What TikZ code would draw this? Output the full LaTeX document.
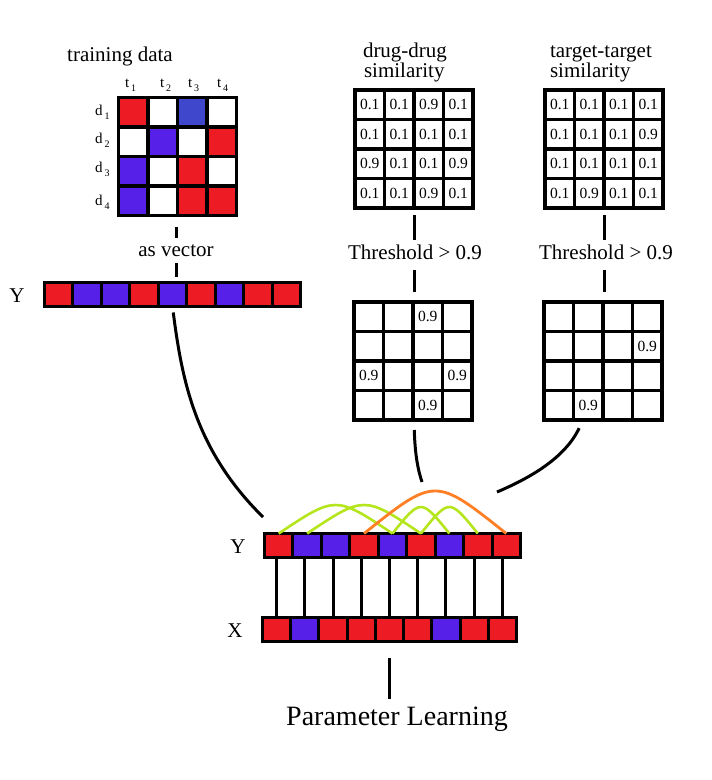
\documentclass[tikz,border=0pt]{standalone}
\usepackage{fontspec}
\setmainfont{Liberation Serif}
\usetikzlibrary{calc}
\definecolor{cred}{HTML}{ED1C24}
\definecolor{cpur}{HTML}{5720E9}
\definecolor{cblue}{HTML}{3F48CC}
\definecolor{clime}{HTML}{B5E61D}
\definecolor{corange}{HTML}{FF7F27}
\newcommand\subl[2]{#1\kern2pt\raisebox{-4pt}{\fontsize{10}{12}\selectfont #2}}
\tikzset{
 mcell/.style={draw=black,line width=3.5pt,minimum width=29.5pt,minimum height=29.5pt,inner sep=0pt,outer sep=0pt,font=\fontsize{15.5}{18}\selectfont},
 vcell/.style={draw=black,line width=3pt,minimum height=24pt,inner sep=0pt,outer sep=0pt},
 lbl/.style={font=\fontsize{21}{24}\selectfont,inner sep=0pt,outer sep=0pt,anchor=base},
 lblw/.style={lbl,anchor=base west},
 smalllbl/.style={font=\fontsize{15}{18}\selectfont,inner sep=0pt,outer sep=0pt,anchor=base west},
 conn/.style={line width=3pt},
 arcg/.style={draw=clime,line width=2.6pt},
 arco/.style={draw=corange,line width=2.8pt},
}
\begin{document}
\begin{tikzpicture}[x=1pt,y=-1pt]
\useasboundingbox (0,0) rectangle (712,780);

% ---------- training data ----------
\node[lbl] (trtitle) at (120,61) {training data};
\foreach \row [count=\i] in {{cred,white,cblue,white},{white,cpur,white,cred},{cpur,white,cred,white},{cpur,white,cred,cred}}
  \foreach \c [count=\j] in \row
    \node[mcell,fill=\c] (tr-\i-\j) at ({118.5+29.5*(\j-0.5)},{97.5+29.5*(\i-0.5)}) {};
\node[smalllbl] (t1) at (125,87) {\subl{t}{1}};
\node[smalllbl] (t2) at (160,87) {\subl{t}{2}};
\node[smalllbl] (t3) at (188,87) {\subl{t}{3}};
\node[smalllbl] (t4) at (217,87) {\subl{t}{4}};
\node[smalllbl] (d1) at (95,115) {\subl{d}{1}};
\node[smalllbl] (d2) at (95,143) {\subl{d}{2}};
\node[smalllbl] (d3) at (95,172) {\subl{d}{3}};
\node[smalllbl] (d4) at (95,205) {\subl{d}{4}};
\coordinate (tmb) at (176,215.5);
\node[lbl] (av) at (176,256) {as vector};
\coordinate (tyt) at (176,282.5);
\draw[conn,shorten <=11.5pt,shorten >=12pt] (tmb) -- (av.center);
\draw[conn,shorten <=13pt,shorten >=5.5pt] (av.center) -- (tyt);

% ---------- top Y vector ----------
\node[lbl] (ylab1) at (17,302) {Y};
\foreach \c [count=\i] in {cred,cpur,cpur,cred,cpur,cred,cpur,cred,cred}
  \node[vcell,fill=\c,minimum width=28.44pt] (ty\i) at ({44.5+28.44*(\i-0.5)},294.5) {};

% ---------- drug-drug similarity ----------
\node[lblw] (ddt1) at (363,57) {drug-drug};
\node[lblw] (ddt2) at (364,77) {similarity};
\foreach \row [count=\i] in {{0.1,0.1,0.9,0.1},{0.1,0.1,0.1,0.1},{0.9,0.1,0.1,0.9},{0.1,0.1,0.9,0.1}}
  \foreach \v [count=\j] in \row
    \node[mcell] (dd-\i-\j) at ({355+29.5*(\j-0.5)},{90+29.5*(\i-0.5)}) {\v};
\coordinate (ddb) at (414,208);
\node[lbl] (th1) at (415,259) {Threshold > 0.9};
\coordinate (tlt) at (414,302);
\draw[conn,shorten <=7pt,shorten >=12pt] (ddb) -- (ddb |- th1.center);
\draw[conn,shorten <=18pt,shorten >=10pt] (tlt |- th1.center) -- (tlt);
\foreach \row [count=\i] in {{{},{},0.9,{}},{{},{},{},{}},{0.9,{},{},0.9},{{},{},0.9,{}}}
  \foreach \v [count=\j] in \row
    \node[mcell] (tl-\i-\j) at ({354+29.5*(\j-0.5)},{302+29.5*(\i-0.5)}) {\v};

% ---------- target-target similarity ----------
\node[lblw] (ttt1) at (550,57) {target-target};
\node[lblw] (ttt2) at (550,77) {similarity};
\foreach \row [count=\i] in {{0.1,0.1,0.1,0.1},{0.1,0.1,0.1,0.9},{0.1,0.1,0.1,0.1},{0.1,0.9,0.1,0.1}}
  \foreach \v [count=\j] in \row
    \node[mcell] (tt-\i-\j) at ({545+29.5*(\j-0.5)},{90+29.5*(\i-0.5)}) {\v};
\coordinate (ttb) at (604,208);
\node[lbl] (th2) at (606,259) {Threshold > 0.9};
\coordinate (trt) at (604,302);
\draw[conn,shorten <=7pt,shorten >=12pt] (ttb) -- (ttb |- th2.center);
\draw[conn,shorten <=18pt,shorten >=10pt] (trt |- th2.center) -- (trt);
\foreach \row [count=\i] in {{{},{},{},{}},{{},{},{},0.9},{{},{},{},{}},{{},0.9,{},{}}}
  \foreach \v [count=\j] in \row
    \node[mcell] (tg-\i-\j) at ({544+29.5*(\j-0.5)},{302+29.5*(\i-0.5)}) {\v};

% ---------- bottom Y and X ----------
\node[lbl] (ylab2) at (238,553) {Y};
\node[lbl] (xlab) at (235,637) {X};
\foreach \c [count=\i] in {cred,cpur,cpur,cred,cpur,cred,cpur,cred,cred}
  \node[vcell,fill=\c,minimum width=28.44pt] (by\i) at ({264.5+28.44*(\i-0.5)},545.5) {};
\foreach \c [count=\i] in {cred,cpur,cred,cred,cred,cred,cpur,cred,cred}
  \node[vcell,fill=\c,minimum width=28.22pt] (bx\i) at ({262.5+28.22*(\i-0.5)},629.5) {};
\foreach \i in {1,...,9}
  \draw[conn] (bx\i.north) -- (bx\i.north |- by\i.south);

% ---------- connectors into the model ----------
\coordinate (yin) at (263,517);
\draw[conn,shorten <=6pt] (ty5.south) .. controls (182,380) and (195,450) .. (yin);
\coordinate (tlb) at (414,420);
\coordinate (ddin) at (422,482);
\draw[conn,shorten <=10pt] (tlb) .. controls (415,455) and (418,470) .. (ddin);
\coordinate (trs) at (583,420);
\coordinate (ttin) at (497,492);
\draw[conn,shorten <=9pt] (trs) .. controls (565,458) and (530,478) .. (ttin);

% ---------- arcs ----------
\draw[arcg] (by1.north) .. controls ($(by1.north)!0.5!(by5.north)+(0,-38)$) .. (by5.north);
\draw[arcg] (by2.north) .. controls ($(by2.north)!0.5!(by6.north)+(0,-38)$) .. (by6.north);
\draw[arcg] (by5.north) .. controls ($(by5.north)!0.5!(by7.north)+(0,-35.3)$) .. (by7.north);
\draw[arcg] (by6.north) .. controls ($(by6.north)!0.5!(by8.north)+(0,-35.3)$) .. (by8.north);
\draw[arco] (by4.north) .. controls ($(by4.north)!0.5!(by9.north)+(0,-56.7)$) .. (by9.north);

% ---------- parameter learning ----------
\node[lbl,font=\fontsize{28}{32}\selectfont] (pl) at (397,725.5) {Parameter Learning};
\draw[conn,shorten <=16pt,shorten >=8pt] (bx5.south) -- (bx5.south |- pl.north);
\end{tikzpicture}
\end{document}
